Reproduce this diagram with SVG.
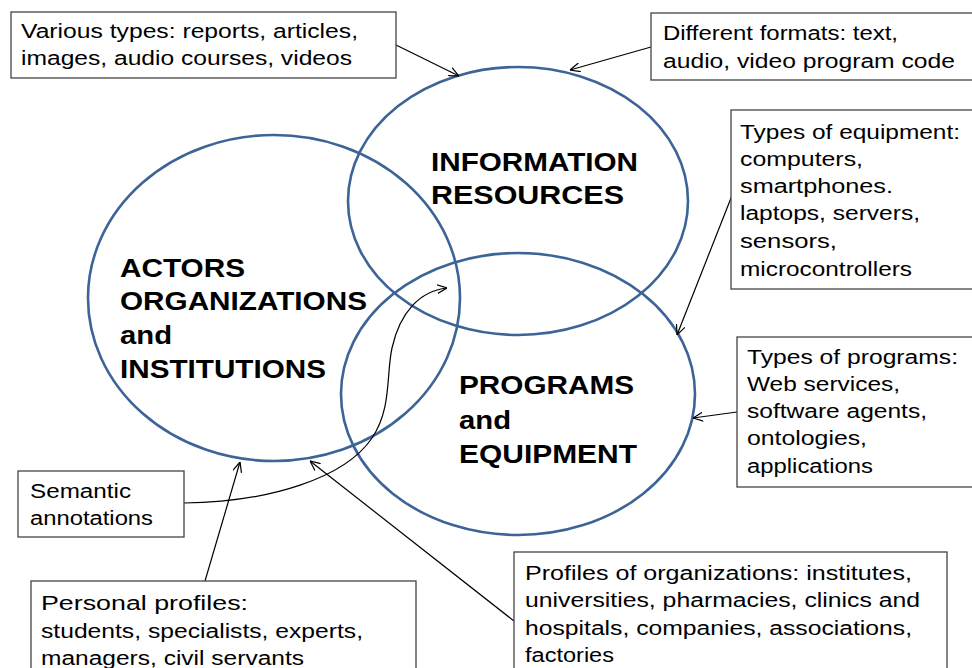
<svg xmlns="http://www.w3.org/2000/svg" width="972" height="668" viewBox="0 0 972 668">
<defs>
<marker id="arr" viewBox="0 0 10 10" refX="10" refY="5" markerWidth="10" markerHeight="10" markerUnits="userSpaceOnUse" orient="auto">
<path d="M0,0.5 L10,5 L0,9.5" fill="none" stroke="#000" stroke-width="1.2"/>
</marker>
<style>
.ell{fill:none;stroke:#3d6496;stroke-width:2.6}
.box{fill:#fff;stroke:#444;stroke-width:1.3}
.t{font-family:"Liberation Sans",Arial,sans-serif;font-size:20px;fill:#000}
.h{font-family:"Liberation Sans",Arial,sans-serif;font-size:25px;font-weight:bold;fill:#000}
.c{fill:none;stroke:#000;stroke-width:1.2;marker-end:url(#arr)}
</style>
</defs>
<rect width="972" height="668" fill="#fff"/>
<g id="ellipses">
<ellipse id="info-ellipse" class="ell" cx="518" cy="201" rx="170" ry="134"/>
<ellipse id="actors-ellipse" class="ell" cx="274" cy="298" rx="186" ry="163"/>
<ellipse id="programs-ellipse" class="ell" cx="518" cy="394" rx="177" ry="141"/>
</g>
<g id="info">
<text class="h" x="431" y="171" textLength="207" lengthAdjust="spacingAndGlyphs">INFORMATION</text>
<text class="h" x="431" y="204" textLength="193" lengthAdjust="spacingAndGlyphs">RESOURCES</text>
</g>
<g id="actors">
<text class="h" x="120" y="277" textLength="125" lengthAdjust="spacingAndGlyphs">ACTORS</text>
<text class="h" x="120" y="310" textLength="247" lengthAdjust="spacingAndGlyphs">ORGANIZATIONS</text>
<text class="h" x="120" y="344" textLength="52" lengthAdjust="spacingAndGlyphs">and</text>
<text class="h" x="120" y="378" textLength="206" lengthAdjust="spacingAndGlyphs">INSTITUTIONS</text>
</g>
<g id="programs">
<text class="h" x="459" y="394" textLength="175" lengthAdjust="spacingAndGlyphs">PROGRAMS</text>
<text class="h" x="459" y="429" textLength="52" lengthAdjust="spacingAndGlyphs">and</text>
<text class="h" x="459" y="463" textLength="178" lengthAdjust="spacingAndGlyphs">EQUIPMENT</text>
</g>
<g id="connectors">
<path class="c" d="M396,45 L459,76"/>
<path class="c" d="M651,47 L570,70"/>
<path class="c" d="M733,193 L677,335"/>
<path class="c" d="M737,412 L693,418"/>
<path class="c" d="M205,581 L240,462"/>
<path class="c" d="M514,621 L310,461"/>
<path class="c" d="M184,503 C270,502 345,478 372,438 C392,408 386,375 392,348 C400,312 420,291 447,288"/>
</g>
<g id="various-types">
<rect class="box" x="11" y="12" width="385" height="66"/>
<text class="t" x="21" y="38" textLength="337" lengthAdjust="spacingAndGlyphs">Various types: reports, articles,</text>
<text class="t" x="21" y="65" textLength="331" lengthAdjust="spacingAndGlyphs">images, audio courses, videos</text>
</g>
<g id="different-formats">
<rect class="box" x="651" y="13" width="330" height="67"/>
<text class="t" x="663" y="40" textLength="235" lengthAdjust="spacingAndGlyphs">Different formats: text,</text>
<text class="t" x="663" y="68" textLength="292" lengthAdjust="spacingAndGlyphs">audio, video program code</text>
</g>
<g id="types-equipment">
<rect class="box" x="731" y="110" width="250" height="179"/>
<text class="t" x="740" y="139" textLength="220" lengthAdjust="spacingAndGlyphs">Types of equipment:</text>
<text class="t" x="740" y="166" textLength="123" lengthAdjust="spacingAndGlyphs">computers,</text>
<text class="t" x="740" y="193" textLength="153" lengthAdjust="spacingAndGlyphs">smartphones.</text>
<text class="t" x="740" y="220" textLength="180" lengthAdjust="spacingAndGlyphs">laptops, servers,</text>
<text class="t" x="740" y="248" textLength="97" lengthAdjust="spacingAndGlyphs">sensors,</text>
<text class="t" x="740" y="276" textLength="172" lengthAdjust="spacingAndGlyphs">microcontrollers</text>
</g>
<g id="types-programs">
<rect class="box" x="737" y="337" width="244" height="150"/>
<text class="t" x="747" y="364" textLength="211" lengthAdjust="spacingAndGlyphs">Types of programs:</text>
<text class="t" x="747" y="391" textLength="153" lengthAdjust="spacingAndGlyphs">Web services,</text>
<text class="t" x="747" y="418" textLength="180" lengthAdjust="spacingAndGlyphs">software agents,</text>
<text class="t" x="747" y="445" textLength="120" lengthAdjust="spacingAndGlyphs">ontologies,</text>
<text class="t" x="747" y="473" textLength="126" lengthAdjust="spacingAndGlyphs">applications</text>
</g>
<g id="semantic-annotations">
<rect class="box" x="18" y="471" width="166" height="66"/>
<text class="t" x="30" y="498" textLength="101" lengthAdjust="spacingAndGlyphs">Semantic</text>
<text class="t" x="30" y="525" textLength="123" lengthAdjust="spacingAndGlyphs">annotations</text>
</g>
<g id="personal-profiles">
<rect class="box" x="31" y="581" width="385" height="100"/>
<text class="t" x="41" y="610" textLength="207" lengthAdjust="spacingAndGlyphs">Personal profiles:</text>
<text class="t" x="41" y="638" textLength="322" lengthAdjust="spacingAndGlyphs">students, specialists, experts,</text>
<text class="t" x="41" y="665" textLength="263" lengthAdjust="spacingAndGlyphs">managers, civil servants</text>
</g>
<g id="org-profiles">
<rect class="box" x="514" y="552" width="433" height="130"/>
<text class="t" x="525" y="580" textLength="387" lengthAdjust="spacingAndGlyphs">Profiles of organizations: institutes,</text>
<text class="t" x="525" y="607" textLength="395" lengthAdjust="spacingAndGlyphs">universities, pharmacies, clinics and</text>
<text class="t" x="525" y="635" textLength="387" lengthAdjust="spacingAndGlyphs">hospitals, companies, associations,</text>
<text class="t" x="525" y="662" textLength="89" lengthAdjust="spacingAndGlyphs">factories</text>
</g>
</svg>
